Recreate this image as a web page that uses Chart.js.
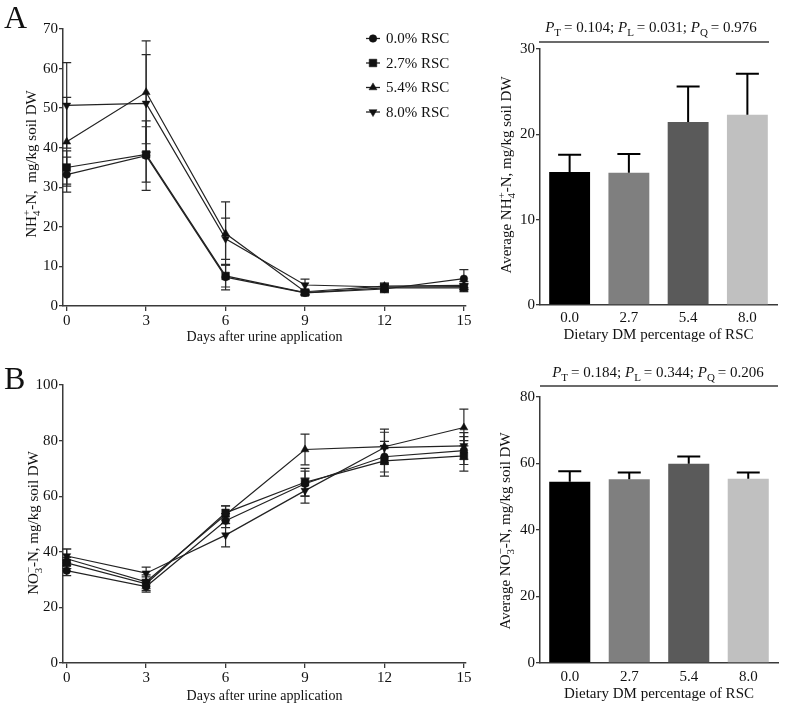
<!DOCTYPE html>
<html>
<head>
<meta charset="utf-8">
<title>Soil NH4+-N and NO3--N after urine application</title>
<script src="https://cdn.jsdelivr.net/npm/chart.js@4.4.0/dist/chart.umd.min.js"></script>
<style>
  body { margin: 0; background: #fff; }
  #wrap { position: relative; width: 789px; height: 706px; }
  .box { position: absolute; }
  .box canvas { display: block; }
</style>
</head>
<body>
<div id="wrap">
  <div class="box" style="left:0;top:0"><canvas id="nh4Line" width="480" height="350"></canvas></div>
  <div class="box" style="left:480px;top:0"><canvas id="nh4Bar" width="309" height="350"></canvas></div>
  <div class="box" style="left:0;top:355px"><canvas id="no3Line" width="480" height="351"></canvas></div>
  <div class="box" style="left:480px;top:355px"><canvas id="no3Bar" width="309" height="351"></canvas></div>
</div>
<script>
// ---- data ----
const days = [0, 3, 6, 9, 12, 15];
const groups = ['0.0% RSC', '2.7% RSC', '5.4% RSC', '8.0% RSC'];
const rscLevels = ['0.0', '2.7', '5.4', '8.0'];

// NH4+-N, mg/kg soil DW (mean, sd)
const nh4Rsc00 = [33.2, 38.0, 7.3, 3.3, 4.3, 6.9];
const nh4Rsc27 = [35.0, 38.3, 7.6, 3.4, 4.6, 4.6];
const nh4Rsc54 = [41.5, 54.0, 18.3, 3.6, 5.0, 5.2];
const nh4Rsc80 = [50.7, 51.2, 17.0, 5.3, 4.8, 4.9];
const nh4Sd00 = [4.4, 8.8, 3.2, 0.6, 0.9, 2.3];
const nh4Sd27 = [4.2, 7.0, 2.8, 0.5, 0.9, 1.0];
const nh4Sd54 = [11.2, 13.0, 8.0, 0.6, 0.8, 1.0];
const nh4Sd80 = [10.8, 12.3, 5.2, 1.5, 0.9, 0.8];

// NO3--N, mg/kg soil DW (mean, sd)
const no3Rsc00 = [33.2, 27.5, 51.2, 64.5, 74.2, 76.4];
const no3Rsc27 = [36.0, 28.5, 54.0, 65.0, 72.7, 74.5];
const no3Rsc54 = [37.5, 29.2, 53.3, 76.8, 77.8, 84.7];
const no3Rsc80 = [38.5, 32.3, 46.0, 62.0, 77.5, 78.1];
const no3Sd00 = [1.8, 2.0, 2.5, 4.5, 5.5, 5.0];
const no3Sd27 = [2.0, 2.5, 2.5, 5.0, 5.5, 5.5];
const no3Sd54 = [3.5, 2.5, 3.2, 5.5, 6.3, 6.6];
const no3Sd80 = [2.5, 2.2, 4.2, 4.5, 5.5, 4.8];

// averages over the period
const nh4Avg = [15.6, 15.5, 21.45, 22.3];
const nh4AvgErr = [2.0, 2.2, 4.15, 4.8];
const no3Avg = [54.5, 55.3, 59.9, 55.4];
const no3AvgErr = [3.2, 2.0, 2.2, 1.9];

// tick labels
const nh4Ticks = [0, 10, 20, 30, 40, 50, 60, 70];
const no3Ticks = [0, 20, 40, 60, 80, 100];
const nh4AvgTicks = [0, 10, 20, 30];
const no3AvgTicks = [0, 20, 40, 60, 80];

// ---- style ----
const SERIF = '"Liberation Serif", "Times New Roman", serif';
const INK = '#111';
const AXIS = '#3a3a3a';
const barColors = ['#000000', '#7f7f7f', '#5a5a5a', '#c0c0c0'];
const markers = [
  { style: 'circle', rot: 0, r: 3.8 },
  { style: 'rect', rot: 0, r: 5.4 },
  { style: 'triangle', rot: 0, r: 4.6 },
  { style: 'triangle', rot: 180, r: 4.6 }
];

Chart.defaults.font.family = SERIF;
Chart.defaults.color = INK;

// text with italic / subscript / superscript pieces, centred on x,y
function drawRich(ctx, parts, x, y, size, vertical) {
  const small = Math.round(size * 0.72);
  const font = k => (k === 'i' ? 'italic ' : '') + ((k === 'sub' || k === 'sup') ? small : size) + 'px ' + SERIF;
  ctx.save();
  ctx.textBaseline = 'alphabetic';
  ctx.textAlign = 'left';
  const widths = parts.map(([t, k]) => { ctx.font = font(k); return ctx.measureText(t).width; });
  const xs = [];
  let cursor = 0;
  parts.forEach(([t, k], i) => {
    if (k === 'sup' && i > 0 && parts[i - 1][1] === 'sub') {
      xs.push(xs[i - 1]);
      cursor = Math.max(cursor, xs[i - 1] + widths[i]);
    } else {
      xs.push(cursor);
      cursor += widths[i];
    }
  });
  ctx.translate(x, y);
  if (vertical) ctx.rotate(-Math.PI / 2);
  ctx.fillStyle = INK;
  const base = size * 0.33;
  parts.forEach(([t, k], i) => {
    ctx.font = font(k);
    const dy = k === 'sub' ? size * 0.28 : k === 'sup' ? -size * 0.42 : 0;
    ctx.fillText(t, xs[i] - cursor / 2, base + dy);
  });
  ctx.restore();
}

// error bars from the dataset's err array
function drawErrors(chart) {
  const ctx = chart.ctx;
  const y = chart.scales.y;
  const isBar = chart.config.type === 'bar';
  chart.data.datasets.forEach((ds, di) => {
    if (!ds.err) return;
    const meta = chart.getDatasetMeta(di);
    const cap = isBar ? 11.5 : 4.5;
    ctx.save();
    ctx.strokeStyle = isBar ? '#000' : '#2a2a2a';
    ctx.lineWidth = isBar ? 2 : 1.2;
    meta.data.forEach((el, i) => {
      const d = ds.data[i];
      const v = typeof d === 'object' ? d.y : d;
      const e = ds.err[i];
      const yt = y.getPixelForValue(v + e);
      const yb = isBar ? y.getPixelForValue(v) : y.getPixelForValue(v - e);
      ctx.beginPath();
      ctx.moveTo(el.x, yb);
      ctx.lineTo(el.x, yt);
      ctx.moveTo(el.x - cap, yt);
      ctx.lineTo(el.x + cap, yt);
      if (!isBar) {
        ctx.moveTo(el.x - cap, yb);
        ctx.lineTo(el.x + cap, yb);
      }
      ctx.stroke();
    });
    ctx.restore();
  });
}

const errorBars = {
  id: 'errorBars',
  beforeDatasetsDraw(chart) { if (chart.config.type === 'line') drawErrors(chart); },
  afterDatasetsDraw(chart) { if (chart.config.type === 'bar') drawErrors(chart); }
};

// panel letter, y title, p-values line, in-plot legend
const deco = {
  id: 'deco',
  afterDraw(chart, args, o) {
    const ctx = chart.ctx;
    if (o.letter) {
      ctx.save();
      ctx.font = '32px ' + SERIF;
      ctx.fillStyle = INK;
      ctx.textBaseline = 'alphabetic';
      ctx.fillText(o.letter[0], o.letter[1], o.letter[2]);
      ctx.restore();
    }
    if (o.yTitle) drawRich(ctx, o.yTitle.parts, o.yTitle.x, o.yTitle.y, 15, true);
    if (o.pText) {
      const p = o.pText;
      drawRich(ctx, p.parts, p.x, p.y, 15, false);
      ctx.save();
      ctx.strokeStyle = AXIS;
      ctx.lineWidth = 1.5;
      ctx.beginPath();
      ctx.moveTo(p.x0, p.lineY);
      ctx.lineTo(p.x1, p.lineY);
      ctx.stroke();
      ctx.restore();
    }
    if (o.legend) {
      const L = o.legend;
      chart.data.datasets.forEach((ds, i) => {
        const yy = L.y0 + i * L.dy;
        ctx.save();
        ctx.strokeStyle = '#222';
        ctx.lineWidth = 1.3;
        ctx.beginPath();
        ctx.moveTo(L.x - 7, yy);
        ctx.lineTo(L.x + 7, yy);
        ctx.stroke();
        ctx.fillStyle = '#111';
        ctx.strokeStyle = '#111';
        ctx.lineWidth = 0.5;
        Chart.helpers.drawPoint(ctx, { pointStyle: ds.pointStyle, rotation: ds.pointRotation, radius: ds.pointRadius, borderWidth: 0.5 }, L.x, yy);
        ctx.font = '15px ' + SERIF;
        ctx.textBaseline = 'middle';
        ctx.fillText(ds.label, L.x + 13, yy + 1);
        ctx.restore();
      });
    }
  }
};

function lineChart(id, series, errs, yTicks, xHeight, xTitleBottom, padTop, decoOpts) {
  return new Chart(document.getElementById(id), {
    type: 'line',
    data: {
      datasets: series.map((s, i) => ({
        label: groups[i],
        data: days.map((d, j) => ({ x: d, y: s[j] })),
        err: errs[i],
        borderColor: '#222',
        borderWidth: 1.2,
        tension: 0,
        pointStyle: markers[i].style,
        pointRotation: markers[i].rot,
        pointRadius: markers[i].r,
        pointBackgroundColor: '#111',
        pointBorderColor: '#111',
        pointBorderWidth: 0.5,
        clip: false
      }))
    },
    options: {
      responsive: false,
      animation: false,
      layout: { padding: { left: 0, right: 14, top: padTop, bottom: 0 } },
      plugins: { legend: { display: false }, tooltip: { enabled: false }, deco: decoOpts },
      scales: {
        x: {
          type: 'linear', min: -0.14, max: 15.08,
          afterBuildTicks: s => { s.ticks = days.map(v => ({ value: v })); },
          afterFit: s => { s.height = xHeight; },
          grid: { drawOnChartArea: false, tickLength: 5, color: AXIS, lineWidth: 1.3 },
          border: { color: AXIS, width: 1.5 },
          ticks: { padding: 1, font: { size: 15 }, color: INK },
          title: { display: true, text: 'Days after urine application', font: { size: 14 }, color: INK, padding: { top: 0, bottom: xTitleBottom } }
        },
        y: {
          min: 0, max: yTicks[yTicks.length - 1],
          afterBuildTicks: s => { s.ticks = yTicks.map(v => ({ value: v })); },
          afterFit: s => { s.width = 63; },
          grid: { drawOnChartArea: false, tickLength: 4, color: AXIS, lineWidth: 1.3 },
          border: { color: AXIS, width: 1.5 },
          ticks: { padding: 1, font: { size: 15 }, color: INK }
        }
      }
    },
    plugins: [errorBars, deco]
  });
}

function barChart(id, vals, errs, yTicks, padTop, padRight, xHeight, xTitleBottom, tickPad, decoOpts) {
  return new Chart(document.getElementById(id), {
    type: 'bar',
    data: {
      labels: rscLevels,
      datasets: [{
        data: vals,
        err: errs,
        backgroundColor: barColors,
        borderWidth: 0,
        barPercentage: 0.69,
        categoryPercentage: 1
      }]
    },
    options: {
      responsive: false,
      animation: false,
      layout: { padding: { left: 0, right: padRight, top: padTop, bottom: 0 } },
      plugins: { legend: { display: false }, tooltip: { enabled: false }, deco: decoOpts },
      scales: {
        x: {
          afterFit: s => { s.height = xHeight; },
          grid: { drawOnChartArea: false, drawTicks: false },
          border: { color: AXIS, width: 1.5 },
          ticks: { padding: tickPad, font: { size: 15 }, color: INK },
          title: { display: true, text: 'Dietary DM percentage of RSC', font: { size: 15 }, color: INK, padding: { top: 0, bottom: xTitleBottom } }
        },
        y: {
          min: 0, max: yTicks[yTicks.length - 1],
          afterBuildTicks: s => { s.ticks = yTicks.map(v => ({ value: v })); },
          afterFit: s => { s.width = 60; },
          grid: { drawOnChartArea: false, tickLength: 4, color: AXIS, lineWidth: 1.3 },
          border: { color: AXIS, width: 1.5 },
          ticks: { padding: 1, font: { size: 15 }, color: INK }
        }
      }
    },
    plugins: [errorBars, deco]
  });
}

// A: NH4+-N
lineChart('nh4Line',
  [nh4Rsc00, nh4Rsc27, nh4Rsc54, nh4Rsc80],
  [nh4Sd00, nh4Sd27, nh4Sd54, nh4Sd80],
  nh4Ticks, 44, 4.5, 29,
  {
    letter: ['A', 4, 28],
    yTitle: { x: 31, y: 164, parts: [['NH', 'n'], ['4', 'sub'], ['+', 'sup'], ['-N,  mg/kg soil DW', 'n']] },
    legend: { x: 373, y0: 38.5, dy: 24.5 }
  });

barChart('nh4Bar', nh4Avg, nh4AvgErr, nh4AvgTicks, 49, 12, 45, 5.5, 4,
  {
    yTitle: { x: 26, y: 175, parts: [['Average NH', 'n'], ['4', 'sub'], ['+', 'sup'], ['-N, mg/kg soil DW', 'n']] },
    pText: {
      x: 171, y: 27, lineY: 42, x0: 59, x1: 289,
      parts: [['P', 'i'], ['T', 'sub'], ['\u2009= 0.104; ', 'n'], ['P', 'i'], ['L', 'sub'], ['\u2009= 0.031; ', 'n'], ['P', 'i'], ['Q', 'sub'], ['\u2009= 0.976', 'n']]
    }
  });

// B: NO3--N
lineChart('no3Line',
  [no3Rsc00, no3Rsc27, no3Rsc54, no3Rsc80],
  [no3Sd00, no3Sd27, no3Sd54, no3Sd80],
  no3Ticks, 43, 1, 30,
  {
    letter: ['B', 4, 34],
    yTitle: { x: 33, y: 168, parts: [['NO', 'n'], ['3', 'sub'], ['\u2212', 'sup'], ['-N, mg/kg soil DW', 'n']] }
  });

barChart('no3Bar', no3Avg, no3AvgErr, no3AvgTicks, 42, 11, 43, 2.5, 5,
  {
    yTitle: { x: 25, y: 176, parts: [['Average NO', 'n'], ['3', 'sub'], ['\u2212', 'sup'], ['-N, mg/kg soil DW', 'n']] },
    pText: {
      x: 178, y: 17, lineY: 31, x0: 60, x1: 298,
      parts: [['P', 'i'], ['T', 'sub'], ['\u2009= 0.184; ', 'n'], ['P', 'i'], ['L', 'sub'], ['\u2009= 0.344; ', 'n'], ['P', 'i'], ['Q', 'sub'], ['\u2009= 0.206', 'n']]
    }
  });
</script>
</body>
</html>
